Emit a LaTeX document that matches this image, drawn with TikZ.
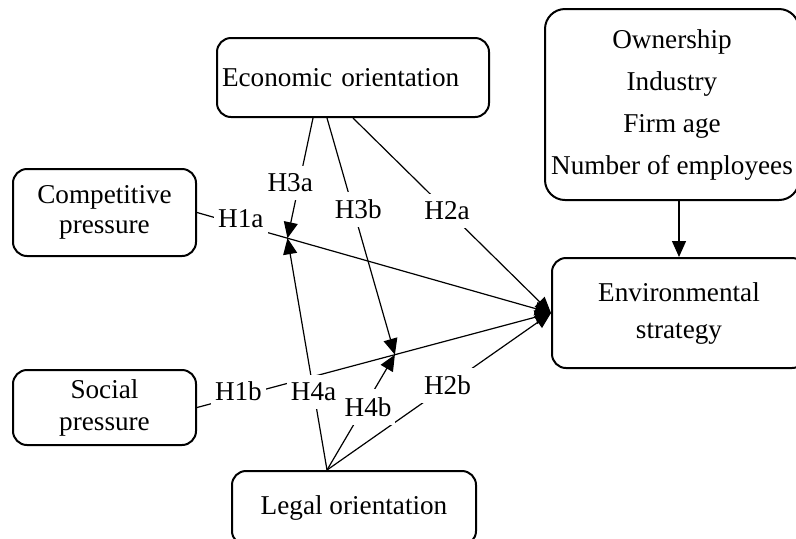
\documentclass[tikz,border=0pt]{standalone}
\usepackage{fontspec}
\setmainfont{Liberation Serif}
\usetikzlibrary{arrows.meta, calc}

\begin{document}
\begin{tikzpicture}[x=0.5pt, y=-0.5pt,
    box/.style={draw, line width=1pt, rounded corners=7pt, align=center, inner sep=2.5pt, font=\fontsize{13.6}{15}\selectfont},
    link/.style={line width=0.6pt, -{Triangle[length=8pt, width=7pt]}},
    hyp/.style={fill=white, inner xsep=2pt, inner ysep=4pt, font=\fontsize{13.6}{15}\selectfont}]
  \useasboundingbox (0,0) rectangle (796,538);
  \clip (0,0) rectangle (796,538);

  % boxes
  \node[box, minimum width=91.5pt, minimum height=43.5pt] (comp) at (104.5,212.5) {Competitive\\pressure};
  \node[box, minimum width=91.5pt, minimum height=37.5pt] (soc) at (104.5,407.5) {Social\\[1pt]pressure};
  \node[box, text width=131pt, align=left, minimum height=39.5pt] (econ) at (353,77.5) {Economic orientation};
  \node[box, minimum width=122pt, minimum height=37pt] (legal) at (354,508) {Legal orientation};
  \node[box, minimum width=127pt, minimum height=95.5pt, rounded corners=10pt, inner sep=0pt] (ctrl) at (672,104.5) {Ownership\\[6pt]Industry\\[6pt]Firm age\\[6pt]Number of employees};
  \node[box, minimum width=127pt, minimum height=55pt] (env) at (679,313) {Environmental\\[3.5pt]strategy};

  \coordinate (e3a) at ($(econ.south)+(-40,0)$);
  \coordinate (e3b) at ($(econ.south)+(-26,0)$);
  \coordinate (lg) at ($(legal.north)+(-27,0)$);
  \coordinate (m1) at ($(comp.east)!0.2556!(env.west)$);
  \coordinate (m2) at ($(soc.east)!0.559!(env.west)$);

  % direct effects
  \draw[link] (comp.east) -- node[hyp, pos=0.124, yshift=3pt] (h1a) {H1a} (env.west);
  \draw[link] (soc.east) -- node[hyp, pos=0.117, yshift=2.5pt] (h1b) {H1b} (env.west);
  \draw[link] (econ.south) -- node[hyp, pos=0.475] (h2a) {H2a} (env.west);
  \draw[link] (lg) -- node[hyp, pos=0.538] (h2b) {H2b} (env.west);

  % moderation
  \draw[link] (e3a) -- node[hyp, pos=0.54, xshift=-4.5pt] (h3a) {H3a} (m1);
  \draw[link] (e3b) -- node[hyp, pos=0.387, xshift=2.5pt] (h3b) {H3b} (m2);
  \draw[link] (lg) -- node[hyp, pos=0.338] (h4a) {H4a} (m1);
  \draw[link] (lg) -- node[hyp, pos=0.546, xshift=2pt] (h4b) {H4b} (m2);

  % controls
  \draw[link] (ctrl.south -| env.north) -- (env.north);
\end{tikzpicture}
\end{document}
